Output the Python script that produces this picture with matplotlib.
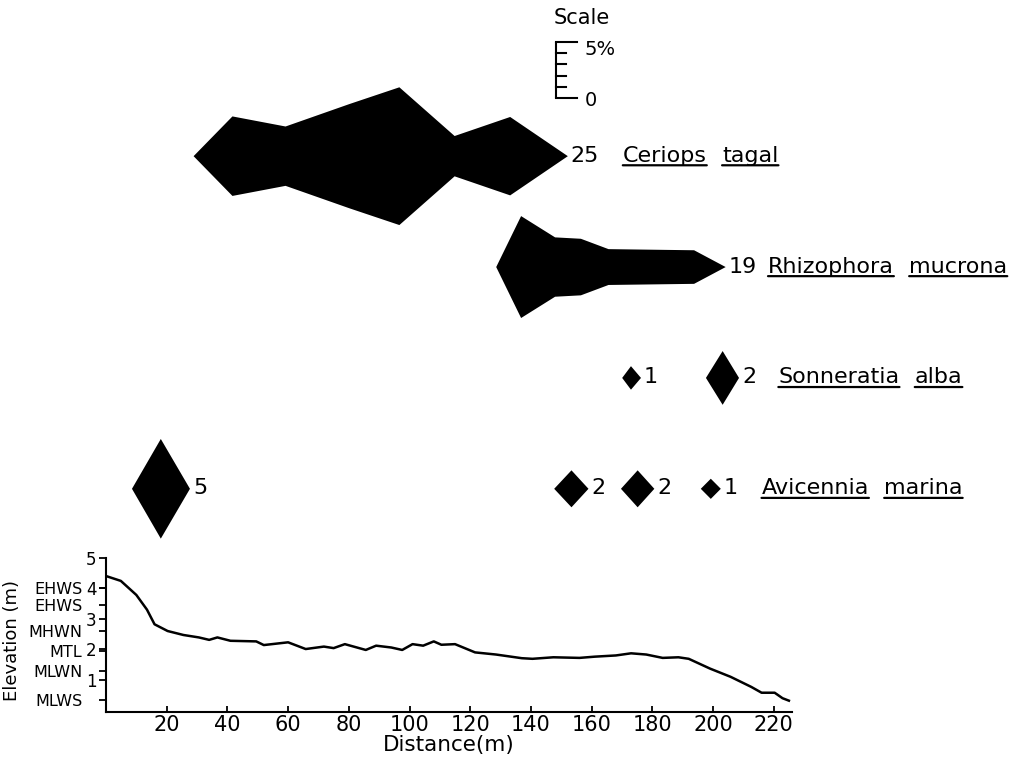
import matplotlib
matplotlib.use("Agg")
import matplotlib.pyplot as plt

# elevation profile along the transect (m)
dist = [0, 4.9, 10, 13.5, 16, 20.3, 25.5, 30.6, 34, 36.7, 41, 49.5, 52, 60, 65.8, 71.8,
        75, 78.7, 85.6, 89, 94, 97.6, 101, 104.5, 108, 110.5, 115, 121.6, 128.5, 137,
        140.5, 147.4, 156, 161, 168, 173, 178, 183.4, 188.6, 192, 199, 205.8, 212.6,
        216, 220.3, 222.9, 225]
elev = [4.40, 4.24, 3.78, 3.30, 2.82, 2.60, 2.47, 2.39, 2.31, 2.39, 2.28, 2.26, 2.14,
        2.23, 2.01, 2.09, 2.04, 2.17, 1.98, 2.12, 2.06, 1.98, 2.17, 2.12, 2.26, 2.15,
        2.17, 1.90, 1.83, 1.71, 1.69, 1.74, 1.72, 1.76, 1.80, 1.87, 1.83, 1.72, 1.74,
        1.69, 1.37, 1.10, 0.77, 0.58, 0.58, 0.40, 0.32]

tide_lv = [4.0, 3.45, 2.6, 1.95, 1.3, 0.35]
tide_names = ['EHWS', 'EHWS', 'MHWN', 'MTL', 'MLWN', 'MLWS']
xticks = [20, 40, 60, 80, 100, 120, 140, 160, 180, 200, 220]

# kite data: distance (m) and cover (%) per patch, number of trees per patch
cer_x = [[28.7, 41.5, 59, 80, 96.5, 114.7, 133, 152]]
cer_w = [[0, 7.1, 5.3, 9.3, 12.3, 3.6, 7.0, 0]]
cer_n = [25]

rhi_x = [[128.4, 136.6, 147.8, 156.3, 165.4, 193.6, 204]]
rhi_w = [[0, 9.1, 5.3, 5.05, 3.2, 3.0, 0]]
rhi_n = [19]

son_x = [[169.9, 172.8, 176.1], [197.5, 203.0, 208.4]]
son_w = [[0, 2.1, 0], [0, 4.8, 0]]
son_n = [1, 2]

avi_x = [[8.4, 17.9, 27.5], [147.5, 153.2, 158.8], [169.5, 175.0, 180.5], [195.8, 199.1, 202.4]]
avi_w = [[0, 8.9, 0], [0, 3.3, 0], [0, 3.3, 0], [0, 1.8, 0]]
avi_n = [5, 2, 2, 1]

genus = ['Ceriops', 'Rhizophora', 'Sonneratia', 'Avicennia']
epithet = ['tagal', 'mucrona', 'alba', 'marina']

fig = plt.figure(figsize=(10.22, 7.6), dpi=100)

# ---- elevation profile ----
ax = fig.add_axes([0.1037, 0.0632, 0.6712, 0.2030])
ax.plot(dist, elev, color='black', lw=1.8)
ax.set_xlim(0, 226)
ax.set_ylim(-0.05, 5.0)
ax.spines['top'].set_visible(False)
ax.spines['right'].set_visible(False)
ax.spines['left'].set_linewidth(1.5)
ax.spines['bottom'].set_linewidth(1.5)
ax.set_xticks(xticks)
ax.tick_params(axis='x', direction='in', length=4, width=1.3, pad=2, labelsize=15)
ax.set_yticks([1, 2, 3, 4, 5])
ax.set_yticklabels(['1', '2', '3', '4', '5'])
ax.set_yticks(tide_lv, minor=True)
ax.set_yticklabels(tide_names, minor=True)
ax.yaxis.remove_overlapping_locs = False
ax.tick_params(axis='y', which='major', length=5, width=1.3, pad=2, labelsize=12)
ax.tick_params(axis='y', which='minor', length=5, width=1.3, pad=12, labelsize=11.5)
ax.set_xlabel('Distance(m)', fontsize=15.5, labelpad=0)
ax.set_ylabel('Elevation (m)', fontsize=13)
ax.yaxis.set_label_coords(-0.124, 0.46)

# ---- kite diagram ----
kx = fig.add_axes([0.1037, 0.2816, 0.6712, 0.7184])
kx.set_xlim(0, 226)
kx.set_ylim(0, 48.75)
kx.axis('off')

name_gap = [17, 8, 16, 17]
rows = [(cer_x, cer_w, cer_n), (rhi_x, rhi_w, rhi_n), (son_x, son_w, son_n), (avi_x, avi_w, avi_n)]
for i, (xs, ws, ns) in enumerate(rows):
    base = 34.85 - 9.9 * i
    last = None
    for x, w, n in zip(xs, ws, ns):
        kx.fill_between(x, [base - v / 2 for v in w], [base + v / 2 for v in w],
                        color='black', lw=0)
        last = kx.annotate(str(n), xy=(x[-1], base), xytext=(2.5, 0), textcoords='offset points',
                           ha='left', va='center', fontsize=16)
    g = kx.annotate(genus[i], xy=(1, 0.5), xycoords=last, xytext=(name_gap[i], 0),
                    textcoords='offset points', ha='left', va='center', fontsize=16)
    s = kx.annotate(epithet[i], xy=(1, 0.5), xycoords=g, xytext=(11, 0),
                    textcoords='offset points', ha='left', va='center', fontsize=16)
    for t in (g, s):
        kx.annotate('', xy=(1, 0.02), xycoords=t, xytext=(0, 0.02), textcoords=t,
                    arrowprops=dict(arrowstyle='-', lw=1.6, color='black', shrinkA=0, shrinkB=0))

# scale bar (5 % cover)
sx = 148.1
kx.plot([sx, sx], [40, 45], color='black', lw=1.5, solid_capstyle='butt')
for k in range(6):
    end = sx + 7 if k in (0, 5) else sx + 3.3
    kx.plot([sx, end], [40 + k, 40 + k], color='black', lw=1.5)
kx.text(157.5, 44.3, '5%', fontsize=14, ha='left', va='center')
kx.text(157.8, 39.8, '0', fontsize=14, ha='left', va='center')
kx.text(156.9, 47.1, 'Scale', fontsize=15, ha='center', va='center')

fig.savefig('out.png', dpi=100)
